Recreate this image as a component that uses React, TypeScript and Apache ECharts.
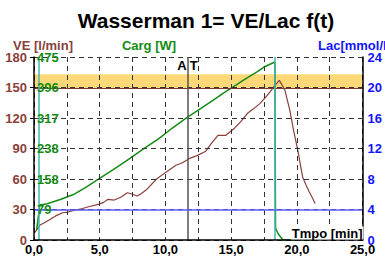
import React, { useEffect, useRef } from 'react';
import * as echarts from 'echarts';

const veTime = [0.07, 0.44, 1.19, 1.7, 2.17, 2.6, 3.16, 3.7, 4.15, 4.9, 5.3, 5.63, 6.1, 6.6, 7.1, 7.5, 7.85, 8.2, 8.6, 9.33, 10.07, 10.8, 11.3, 11.8, 12.4, 13.04, 13.5, 14.0, 14.6, 15.26, 15.7, 16.25, 16.7, 17.2, 17.6, 17.98, 18.35, 18.67, 19.09, 19.46, 19.75, 20.07, 20.44, 20.7, 20.94, 21.2, 21.39];
const veValues = [7.5, 14.5, 20, 24, 26.8, 27.5, 29.5, 31, 32.7, 35, 37, 40, 39.3, 42, 46.5, 45, 43.3, 46, 50, 60, 67, 73.5, 76, 80, 83, 87, 95, 103, 103, 110, 116, 124.6, 129, 134.4, 140, 146, 152.4, 157, 147.5, 128, 108, 88.5, 62, 54, 47.5, 41, 36];

const cargTime = [0.2, 0.44, 1.0, 2.0, 3.0, 4.0, 4.9, 6.0, 7.0, 8.3, 9.5, 10.5, 11.6, 12.5, 13.5, 14.5, 15.1, 16.0, 17.0, 17.5, 18.33, 18.38, 18.6, 18.95, 21.4];
const cargValues = [26, 91, 94, 105, 118, 138, 158, 182, 205, 236, 263, 290, 317, 337, 360, 383, 396, 416, 437, 449, 462, 30, 15, 0, 0];

const AT_TIME = 11.7;
const CYAN_TIMES = [0.35, 18.35];
const LAC_THRESHOLD = 4;
const VE_BAND = [149, 163];

const FONT = 'Liberation Sans, Arial, sans-serif';
const BROWN = '#8a3f3a';
const GREEN = '#148c14';
const BLUE = '#1414ff';

export default function App() {
  const ref = useRef<HTMLDivElement>(null);
  useEffect(() => {
    const chart = echarts.init(ref.current!, null, { renderer: 'svg' });
    const dashed = { show: true, lineStyle: { color: '#333', type: [5, 4] as any, width: 1 } };
    chart.setOption({
      animation: false,
      textStyle: { fontFamily: FONT },
      grid: { left: 34, right: 14, top: 57, bottom: 19, containLabel: false },
      xAxis: {
        type: 'value', min: 0, max: 25, interval: 2.5, z: 5,
        axisLine: { show: true, lineStyle: { color: '#000', width: 1.5 } },
        axisTick: { show: false },
        axisLabel: {
          color: '#000', fontWeight: 'bold', fontSize: 13, margin: 3, fontFamily: FONT,
          formatter: (v: number) => (Math.abs(v % 5) < 1e-6 ? v.toFixed(1).replace('.', ',') : ''),
        },
        splitLine: dashed,
      },
      yAxis: [
        {
          type: 'value', min: 0, max: 180, interval: 30, position: 'left', z: 5,
          axisLine: { show: true, lineStyle: { color: '#000', width: 1.5 } },
          axisTick: { show: true, length: 4, lineStyle: { color: '#000' } },
          axisLabel: { color: BROWN, fontWeight: 'bold', fontSize: 13, margin: 7, fontFamily: FONT },
          splitLine: dashed,
        },
        {
          type: 'value', min: 0, max: 475, interval: 475 / 6, position: 'left', z: 10,
          axisLine: { show: false }, axisTick: { show: false },
          axisLabel: {
            inside: true, color: GREEN, fontWeight: 'bold', fontSize: 13, margin: 3, fontFamily: FONT,
            formatter: (v: number) => (v < 1 ? '' : String(Math.round(v))),
          },
          splitLine: { show: false },
        },
        {
          type: 'value', min: 0, max: 24, interval: 4, position: 'right', z: 5,
          axisLine: { show: true, lineStyle: { color: '#000', width: 1.5 } },
          axisTick: { show: false },
          axisLabel: { color: BLUE, fontWeight: 'bold', fontSize: 13, margin: 5, fontFamily: FONT },
          splitLine: { show: false },
        },
      ],
      series: [
        {
          type: 'line', yAxisIndex: 0, silent: true, symbol: 'none', z: 1,
          data: [],
          markArea: {
            silent: true,
            itemStyle: { color: '#fdd878' },
            data: [[{ yAxis: VE_BAND[0] }, { yAxis: VE_BAND[1] }]],
          },
          markLine: {
            silent: true, symbol: 'none', label: { show: false },
            data: [
              { yAxis: VE_BAND[0], lineStyle: { color: '#7a3a30', type: 'solid', width: 1 } },
              { xAxis: AT_TIME, lineStyle: { color: '#555', type: 'solid', width: 1.5 } },
              ...CYAN_TIMES.map((t) => ({ xAxis: t, lineStyle: { color: '#45b5b5', type: 'solid', width: 1.5 } })),
            ],
          },
        },
        {
          type: 'line', yAxisIndex: 2, silent: true, symbol: 'none', data: [], z: 2,
          markLine: {
            silent: true, symbol: 'none', label: { show: false },
            data: [{ yAxis: LAC_THRESHOLD, lineStyle: { color: '#5c5cff', type: 'solid', width: 1.5 } }],
          },
        },
        {
          type: 'line', yAxisIndex: 0, symbol: 'none', z: 3,
          lineStyle: { color: BROWN, width: 1.2 },
          data: veTime.map((t, i) => [t, veValues[i]]),
        },
        {
          type: 'line', yAxisIndex: 1, symbol: 'none', z: 4,
          lineStyle: { color: GREEN, width: 1.5 },
          data: cargTime.map((t, i) => [t, cargValues[i]]),
        },
      ],
    });
    const atX = chart.convertToPixel({ xAxisIndex: 0 }, AT_TIME) as number;
    const right = chart.convertToPixel({ xAxisIndex: 0 }, 25) as number;
    const bottom = chart.convertToPixel({ yAxisIndex: 0 }, 0) as number;
    const bold = (size: number) => `bold ${size}px ${FONT}`;
    chart.setOption({
      graphic: [
        { type: 'text', x: 206, y: 20, style: { text: 'Wasserman 1= VE/Lac f(t)', font: bold(21), fill: '#000', align: 'center', verticalAlign: 'middle' } },
        { type: 'text', x: 43, y: 45, style: { text: 'VE [l/min]', font: bold(13), fill: BROWN, align: 'center', verticalAlign: 'middle' } },
        { type: 'text', x: 149, y: 45, style: { text: 'Carg [W]', font: bold(13), fill: GREEN, align: 'center', verticalAlign: 'middle' } },
        { type: 'text', x: 318, y: 45, style: { text: 'Lac[mmol/l]', font: bold(13), fill: BLUE, align: 'left', verticalAlign: 'middle' } },
        { type: 'text', x: atX - 1, y: 65, z: 10, style: { text: 'A', font: bold(13), fill: '#000', align: 'right', verticalAlign: 'middle' } },
        { type: 'text', x: atX + 2, y: 65, z: 10, style: { text: 'T', font: bold(13), fill: '#000', align: 'left', verticalAlign: 'middle' } },
        { type: 'text', x: right + 1, y: bottom - 7, z: 10, style: { text: 'Tmpo [min]', font: bold(13), fill: '#000', align: 'right', verticalAlign: 'middle', backgroundColor: '#fff', padding: [0, 1, 0, 1] } as any },
      ],
    });
    return () => chart.dispose();
  }, []);
  return <div ref={ref} style={{ position: 'fixed', left: 0, top: 0, width: 385, height: 259, background: '#fff' }} />;
}
